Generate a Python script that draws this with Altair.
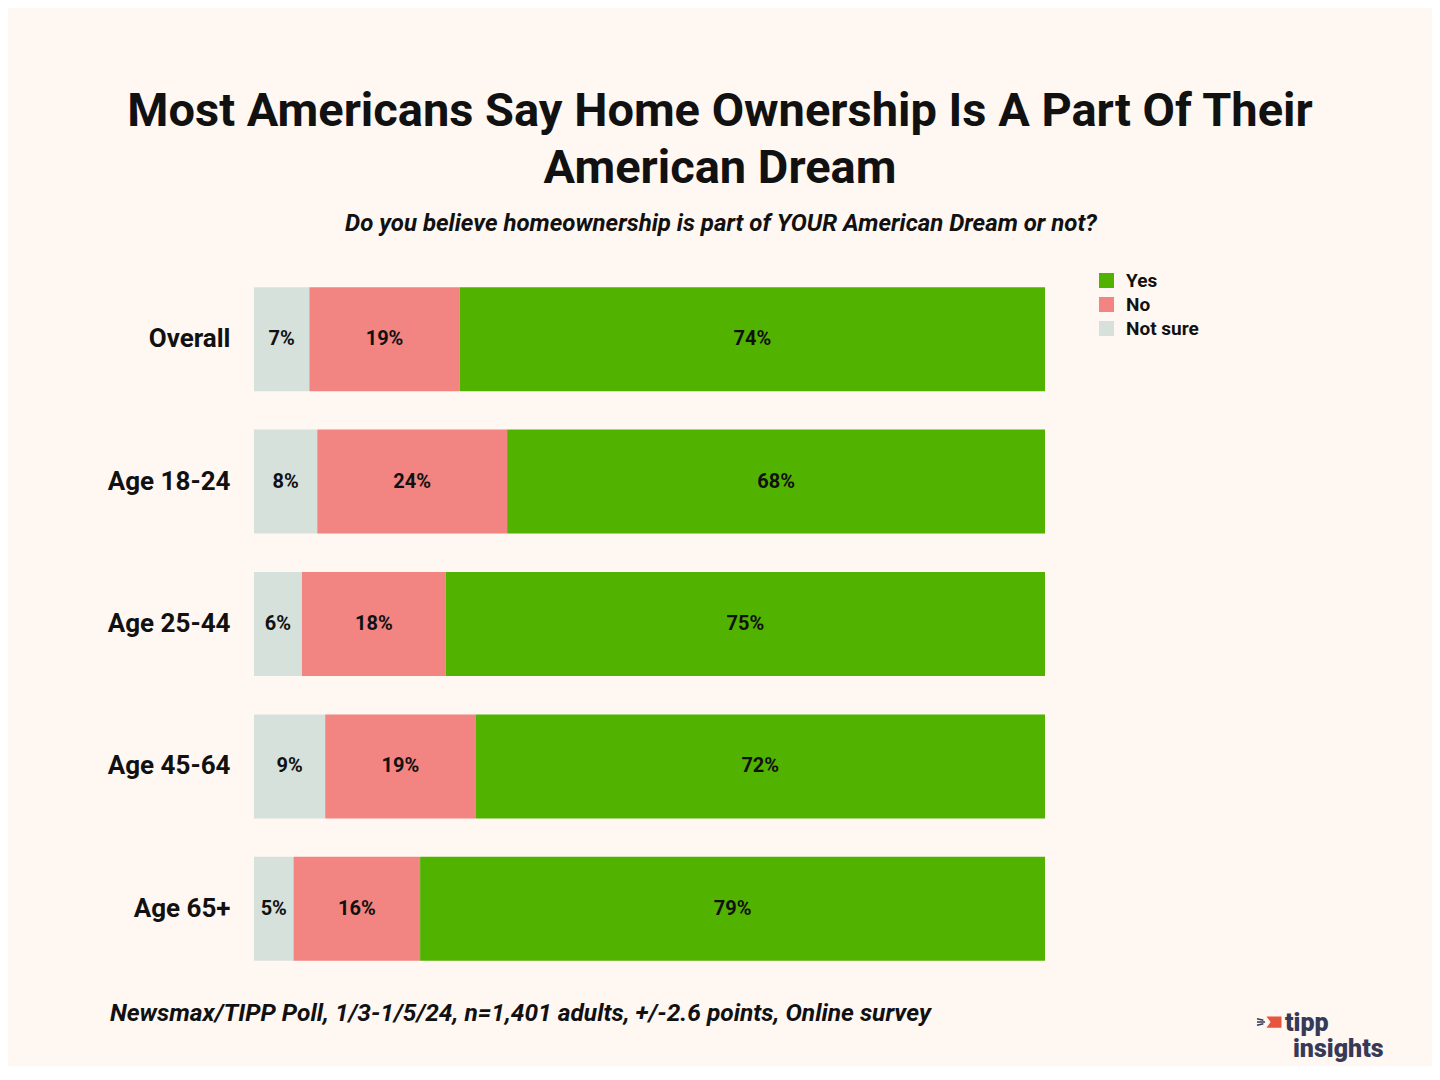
import altair as alt
import pandas as pd

# ---- data ----
groups = ["Overall", "Age 18-24", "Age 25-44", "Age 45-64", "Age 65+"]
yes = [74, 68, 75, 72, 79]
no = [19, 24, 18, 19, 16]
not_sure = [7, 8, 6, 9, 5]

stack_order = ["Not sure", "No", "Yes"]          # left -> right
legend_order = ["Yes", "No", "Not sure"]
legend_colors = ["#52B200", "#F28482", "#D7E1DC"]

title_lines = ["Most Americans Say Home Ownership Is A Part Of Their", "American Dream"]
subtitle = "Do you believe homeownership is part of YOUR American Dream or not?"
footer = "Newsmax/TIPP Poll, 1/3-1/5/24, n=1,401 adults, +/-2.6 points, Online survey"

series = {"Yes": yes, "No": no, "Not sure": not_sure}
rows = []
for i, g in enumerate(groups):
    for j, r in enumerate(stack_order):
        rows.append({"group": g, "response": r, "order": j, "value": series[r][i]})
df = pd.DataFrame(rows)

FONT = "Roboto"
INK = "#111111"

base = (
    alt.Chart(df)
    .transform_joinaggregate(total="sum(value)", groupby=["group"])
    .transform_window(cum="sum(value)", groupby=["group"],
                      sort=[alt.SortField("order")], frame=[None, 0])
    .transform_calculate(
        start="(datum.cum - datum.value) / datum.total",
        end="datum.cum / datum.total",
        mid="(datum.cum - datum.value / 2) / datum.total",
        label="datum.value + '%'",
    )
)

y_enc = alt.Y(
    "group:N", sort=groups,
    scale=alt.Scale(paddingInner=0.27, paddingOuter=0.135),
    axis=alt.Axis(title=None, labelFont=FONT, labelFontSize=26, labelFontWeight="bold",
                  labelColor=INK, labelPadding=24, ticks=False, domain=False, grid=False),
)

bars = base.mark_bar(strokeWidth=0).encode(
    x=alt.X("start:Q", scale=alt.Scale(domain=[0, 1]), axis=None),
    x2="end:Q",
    y=y_enc,
    color=alt.Color(
        "response:N",
        scale=alt.Scale(domain=legend_order, range=legend_colors),
        legend=alt.Legend(
            title=None, orient="none", legendX=843, legendY=3,
            symbolType="square", symbolSize=225, symbolStrokeWidth=0,
            labelFont=FONT, labelFontSize=19, labelFontWeight="bold",
            labelColor=INK, labelOffset=10, rowPadding=4,
        ),
    ),
)

labels = base.mark_text(font=FONT, fontSize=20, fontWeight="bold", color=INK).encode(
    x=alt.X("mid:Q", scale=alt.Scale(domain=[0, 1]), axis=None),
    y=y_enc,
    text="label:N",
)

def text_layer(txt, x, y, size, weight="bold", style="normal", align="center", color=INK):
    return alt.Chart(pd.DataFrame({"t": [txt]})).mark_text(
        font=FONT, fontSize=size, fontWeight=weight, fontStyle=style,
        align=align, baseline="alphabetic", color=color,
    ).encode(x=alt.value(x), y=alt.value(y), text="t:N")

t1 = text_layer(title_lines[0], 466, -142, 47)
t2 = text_layer(title_lines[1], 466, -85, 47)
sub = text_layer(subtitle, 467, -37, 24, style="italic")
foot = text_layer(footer, -144, 753, 24.5, style="italic", align="left")
logo1 = text_layer("tipp", 1031, 763, 25, weight=900, align="left", color="#363A57")
logo2 = text_layer("insights", 1039, 789, 25, weight=900, align="left", color="#363A57")

flag = alt.Chart(pd.DataFrame({"k": [0]})).mark_point(
    shape="M -1 -0.75 L 1 -0.75 L 1 0.75 L -1 0.75 L -0.45 0 Z", filled=True, size=225,
    color="#E8553F", opacity=1, strokeWidth=0,
).encode(x=alt.value(1020), y=alt.value(754))

dashes = alt.Chart(pd.DataFrame({"k": [0]})).mark_point(
    shape="M -1 -0.8 L 0.6 -0.45 M -1 0 L 1 0 M -1 0.8 L 0.6 0.45", filled=False, size=64,
    color="#363A57", opacity=1, strokeWidth=1.5,
).encode(x=alt.value(1007), y=alt.value(754))

chart = (
    alt.layer(bars, labels, t1, t2, sub, foot, logo1, logo2, flag, dashes)
    .properties(
        width=791, height=712,
        padding={"left": 246, "top": 260, "right": 387, "bottom": 86},
        autosize="none",
    )
    .configure(background="#FFF7F2")
    .configure_view(stroke=None)
)

chart.save("out.html", embed_options={"renderer": "svg", "actions": False})
